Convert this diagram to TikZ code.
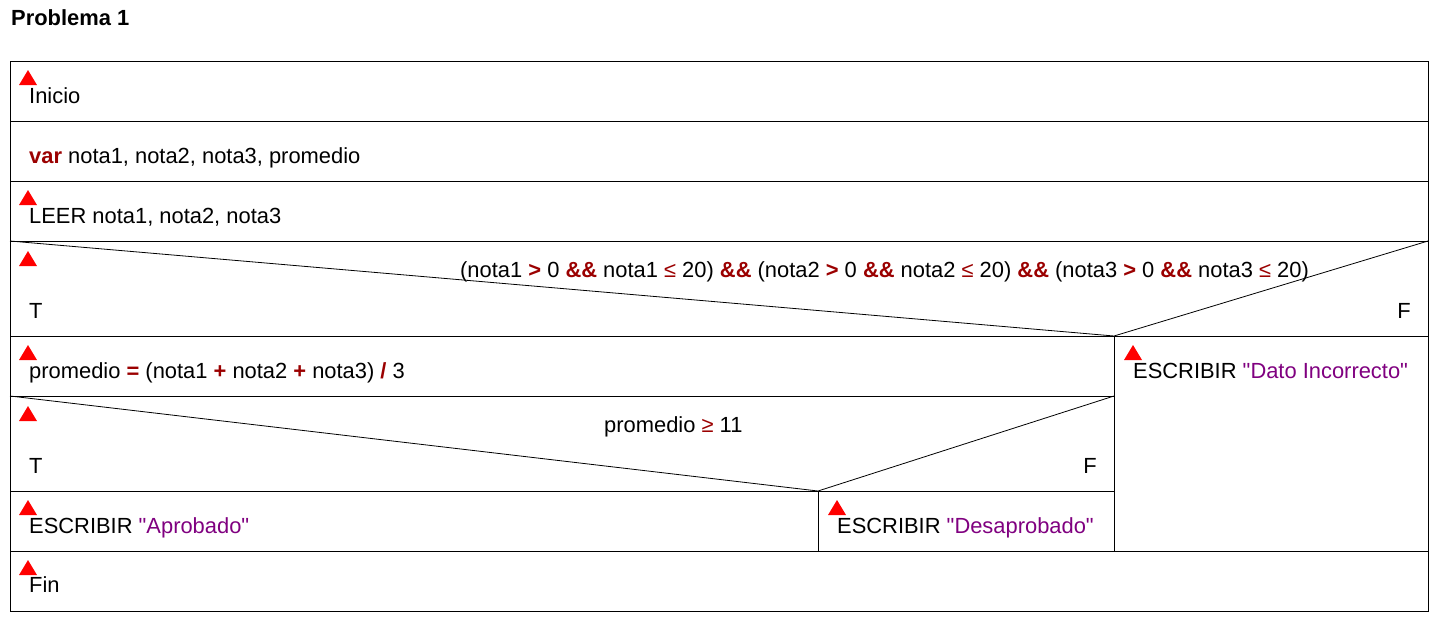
\documentclass[tikz,border=0pt]{standalone}
\usepackage{fontspec}
\setmainfont{Liberation Sans}
\newfontfamily\qfont{Liberation Sans}[Ligatures=ResetAll]
\definecolor{kw}{HTML}{9B0000}
\definecolor{str}{HTML}{800080}
\newcommand\kwd[1]{\textcolor{kw}{\textbf{#1}}}
\newcommand\kwn[1]{\textcolor{kw}{#1}}
\newcommand\strg[1]{\textcolor{str}{{\qfont"}#1{\qfont"}}}
\begin{document}
\begin{tikzpicture}[x=1pt,y=-1pt,
  txt/.style={anchor=base west,inner sep=0pt,font=\fontsize{21.9}{25}\selectfont},
  frame/.style={line width=1pt,draw=black},
  diag/.style={line width=0.8pt,draw=black},
  tri/.style={fill=red}]
\useasboundingbox (0,0) rectangle (1448,622);
\fill[white] (0,0) rectangle (1448,622);
% title
\node[txt,font=\bfseries\fontsize{21.9}{25}\selectfont] (title) at (11,25) {Problema 1};
% frame
\draw[frame] (10,61) rectangle (1428,611);
\foreach \y in {121,181,241,551} \draw[frame] (10,\y) -- (1428,\y);
\draw[frame] (10,336) -- (1428,336);
\draw[frame] (10,396) -- (1114,396);
\draw[frame] (10,491) -- (1114,491);
\draw[frame] (1114,336) -- (1114,551);
\draw[frame] (818,491) -- (818,551);
% decision diagonals
\draw[diag] (10,241) -- (1114,336) -- (1428,241);
\draw[diag] (10,396) -- (818,491) -- (1114,396);
% triangles
\foreach \x/\y in {28/70,28/190,28/251,28/345,28/406,28/500,28/560,837/500,1133/345}
  \fill[tri] (\x-9,\y+15) -- (\x+9,\y+15) -- (\x,\y) -- cycle;
% texts
\node[txt] (inicio) at (29,103) {Inicio};
\node[txt] (var) at (29,163) {\kwd{var} nota1, nota2, nota3, promedio};
\node[txt] (leer) at (29,223) {LEER nota1, nota2, nota3};
\node[txt] (cond1) at (460,277) {(nota1 \kwd{>} 0 \kwd{\&\&} nota1 \kwn{≤} 20) \kwd{\&\&} (nota2 \kwd{>} 0 \kwd{\&\&} nota2 \kwn{≤} 20) \kwd{\&\&} (nota3 \kwd{>} 0 \kwd{\&\&} nota3 \kwn{≤} 20)};
\node[txt] (t1) at (29,318) {T};
\node[txt,anchor=base east] (f1) at (1411,318) {F};
\node[txt] (prom) at (29,378) {promedio \kwd{=} (nota1 \kwd{+} nota2 \kwd{+} nota3) \kwd{/} 3};
\node[txt] (dato) at (1133,378) {ESCRIBIR \strg{Dato Incorrecto}};
\node[txt] (cond2) at (604,432) {promedio \kwn{≥} 11};
\node[txt] (t2) at (29,473) {T};
\node[txt,anchor=base east] (f2) at (1097,473) {F};
\node[txt] (apro) at (29,533) {ESCRIBIR \strg{Aprobado}};
\node[txt] (desa) at (837,533) {ESCRIBIR \strg{Desaprobado}};
\node[txt] (fin) at (29,592) {Fin};
\end{tikzpicture}
\end{document}
